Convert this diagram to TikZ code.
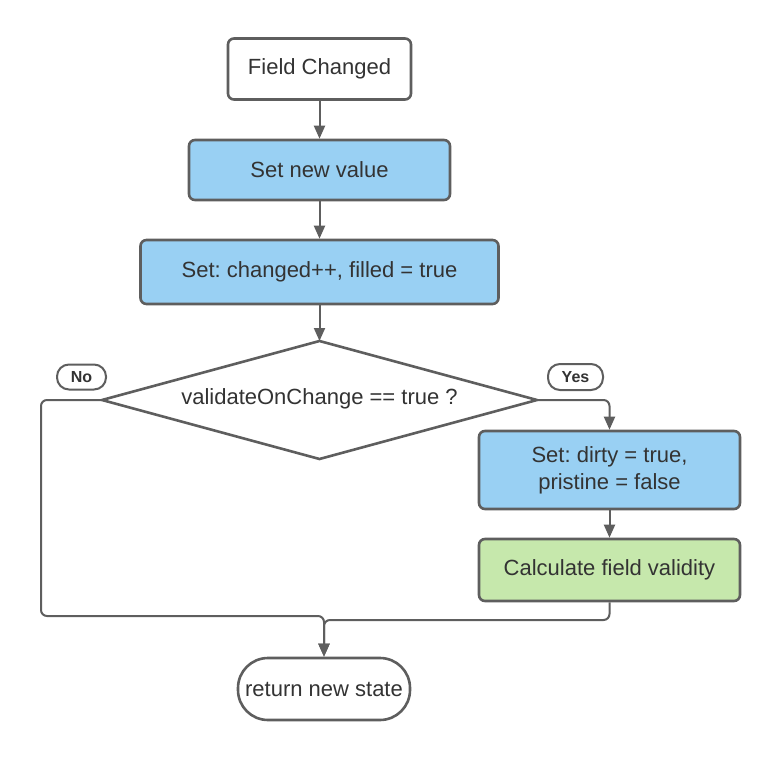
\documentclass[tikz,border=0pt]{standalone}
\usepackage{fontspec}
\setmainfont{Liberation Sans}
\usetikzlibrary{arrows.meta,shapes.geometric}
\definecolor{strk}{HTML}{5E5E5E}
\definecolor{txt}{HTML}{333333}
\definecolor{bluef}{HTML}{99D0F3}
\definecolor{greenf}{HTML}{C6E8AC}
\frenchspacing
\tikzset{
  box/.style={draw=strk, line width=2.6pt, rounded corners=6pt, inner sep=0pt,
    text=txt, font=\fontsize{22}{27}\selectfont, align=center},
  bluebox/.style={box, fill=bluef},
  greenbox/.style={box, fill=greenf},
  whitebox/.style={box, fill=white},
  term/.style={box, fill=white, rounded corners=30pt},
  pill/.style={draw=strk, line width=2pt, fill=white, rounded corners=12pt, inner sep=0pt,
    text=txt, font=\fontsize{16}{18}\selectfont\bfseries},
  conn/.style={draw=strk, line width=2pt, rounded corners=6pt,
    -{Triangle[length=13pt,width=11pt]}}
}
\begin{document}
\begin{tikzpicture}[x=1pt,y=-1pt]
\useasboundingbox (0,0) rectangle (780,760);
\node[whitebox, minimum width=183pt, minimum height=61pt] (fc) at (319.5,69) {Field Changed};
\node[bluebox, minimum width=261pt, minimum height=60pt] (snv) at (319.5,170) {Set new value};
\node[bluebox, minimum width=358pt, minimum height=64pt] (sc) at (319.5,272) {Set: changed++, filled = true};
\draw[draw=strk, line width=2.6pt, fill=white, line join=round]
  (102,400) -- (319.5,341) -- (537,400) -- (319.5,459) -- cycle;
\node[text=txt, font=\fontsize{22}{27}\selectfont, inner sep=0pt] (dec) at (319.5,399) {validateOnChange == true ?};
\coordinate (dn) at (319.5,341);
\coordinate (de) at (537,400);
\coordinate (dw) at (102,400);
\node[bluebox, minimum width=261pt, minimum height=78pt] (dirty) at (609.5,470) {Set: dirty = true,\\pristine = false};
\node[greenbox, minimum width=261pt, minimum height=62pt] (calc) at (609.5,570) {Calculate field validity};
\node[term, minimum width=172pt, minimum height=62pt] (ret) at (324,689) {return new state};
\node[pill, minimum width=49pt, minimum height=25pt] (no) at (81.5,377) {No};
\node[pill, minimum width=55pt, minimum height=26pt] (yes) at (575.5,377) {Yes};
\draw[conn] (fc.south) -- (snv.north);
\draw[conn] (snv.south) -- (sc.north);
\draw[conn] (sc.south) -- (dn);
\draw[conn] (de) -- (dirty.north |- de) -- (dirty.north);
\draw[conn] (dirty.south) -- (calc.north);
\coordinate (rj) at (324,620);
\draw[conn] (calc.south) -- (calc.south |- rj) -- (rj) -- (ret.north);
\coordinate (lj) at (324,616);
\draw[conn] (dw) -- (41,400) -- (41,616) -- (lj) -- (ret.north);
\end{tikzpicture}
\end{document}
